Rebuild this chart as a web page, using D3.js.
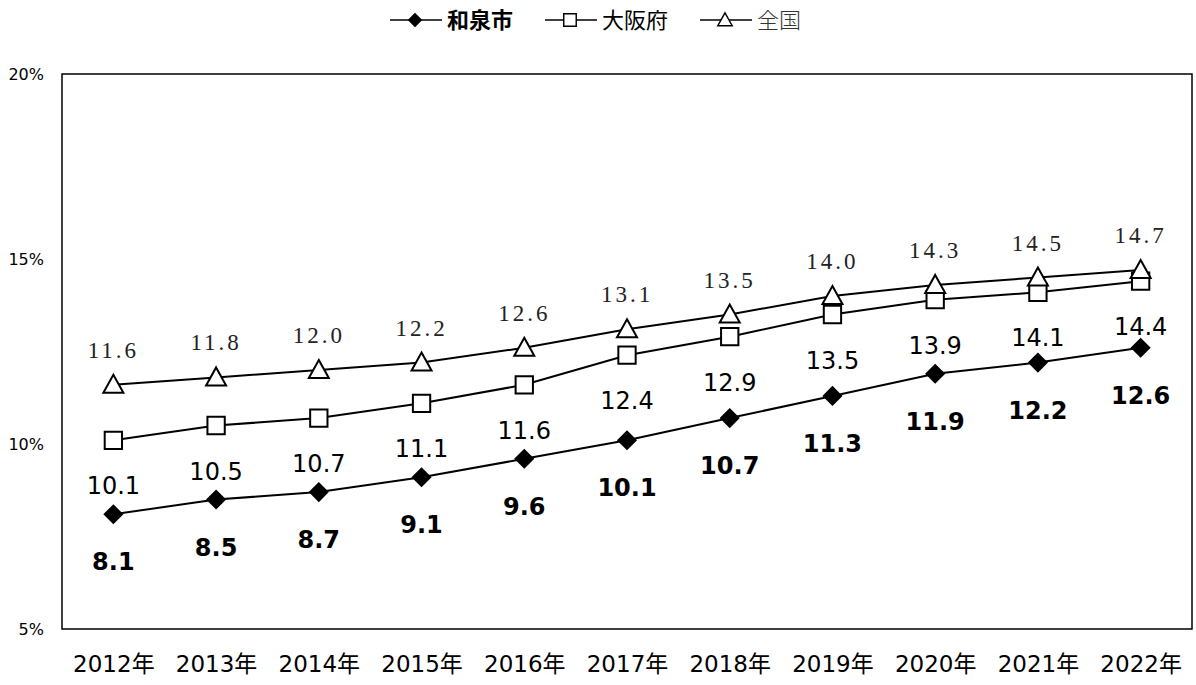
<!DOCTYPE html>
<html>
<head>
<meta charset="utf-8">
<script src="https://cdn.jsdelivr.net/npm/d3@7"></script>
<style>
  body { margin: 0; background: #fff; }
  svg { display: block; }
</style>
</head>
<body>
<div id="chart"></div>
<script>
const years = ["2012年", "2013年", "2014年", "2015年", "2016年", "2017年", "2018年", "2019年", "2020年", "2021年", "2022年"];
const izumi = [8.1, 8.5, 8.7, 9.1, 9.6, 10.1, 10.7, 11.3, 11.9, 12.2, 12.6];
const osaka = [10.1, 10.5, 10.7, 11.1, 11.6, 12.4, 12.9, 13.5, 13.9, 14.1, 14.4];
const zenkoku = [11.6, 11.8, 12.0, 12.2, 12.6, 13.1, 13.5, 14.0, 14.3, 14.5, 14.7];
const yTicks = [5, 10, 15, 20];

const W = 1196, H = 685;
const margin = { top: 74, right: 4, bottom: 56, left: 62 };
const sans = "'DejaVu Sans', 'Noto Sans CJK JP', sans-serif";
const serif = "'Liberation Serif', 'DejaVu Serif', serif";

const svg = d3.select('#chart').append('svg')
  .attr('width', W).attr('height', H);

const x = d3.scalePoint().domain(years)
  .range([margin.left, W - margin.right]).padding(0.5);
const y = d3.scaleLinear().domain([5, 20])
  .range([H - margin.bottom, margin.top]);

// plot frame
svg.append('rect')
  .attr('x', margin.left).attr('y', margin.top)
  .attr('width', W - margin.right - margin.left)
  .attr('height', H - margin.bottom - margin.top)
  .attr('fill', 'none').attr('stroke', '#000').attr('stroke-width', 1.5);

// y axis labels
const yAxis = d3.axisLeft(y).tickValues(yTicks).tickSize(0).tickPadding(18)
  .tickFormat(d => d + '%');
svg.append('g')
  .attr('transform', `translate(${margin.left},0)`)
  .call(yAxis)
  .call(g => g.select('.domain').remove())
  .selectAll('text')
  .attr('font-family', sans).attr('font-size', 16).attr('fill', '#000');

// x axis labels
const xAxis = d3.axisBottom(x).tickSize(0).tickPadding(27);
svg.append('g')
  .attr('transform', `translate(0,${H - margin.bottom})`)
  .call(xAxis)
  .call(g => g.select('.domain').remove())
  .selectAll('text')
  .attr('font-family', sans).attr('font-size', 23).attr('fill', '#000');

const line = d3.line().x((d, i) => x(years[i])).y(d => y(d));

const diamond = d3.symbol().type(d3.symbolSquare).size(150)();
const square = d3.symbol().type(d3.symbolSquare).size(300)();
const triangle = 'M0,-10L10,8L-10,8Z';

const series = [
  { name: '和泉市', values: izumi, marker: diamond, rotate: 45, fill: '#000', labelDy: 56, font: sans, weight: 'bold' },
  { name: '大阪府', values: osaka, marker: square, rotate: 0, fill: '#fff', labelDy: 54, font: sans, weight: 'normal' },
  { name: '全国', values: zenkoku, marker: triangle, rotate: 0, fill: '#fff', labelDy: -27, font: serif, weight: 'normal' }
];

series.forEach(s => {
  svg.append('path').datum(s.values)
    .attr('d', line).attr('fill', 'none')
    .attr('stroke', '#000').attr('stroke-width', 2);
});

series.forEach(s => {
  svg.append('g').selectAll('path').data(s.values).join('path')
    .attr('d', s.marker)
    .attr('transform', (d, i) => `translate(${x(years[i])},${y(d)}) rotate(${s.rotate})`)
    .attr('fill', s.fill).attr('stroke', '#000').attr('stroke-width', 2);

  svg.append('g').selectAll('text').data(s.values).join('text')
    .attr('x', (d, i) => x(years[i]))
    .attr('y', d => y(d) + s.labelDy)
    .attr('text-anchor', 'middle')
    .attr('font-family', s.font)
    .attr('font-size', s.font === serif ? 23 : 24)
    .attr('font-weight', s.weight)
    .attr('letter-spacing', s.font === serif ? 3 : 0)
    .attr('fill', s.font === serif ? '#222' : '#000')
    .text(d => d.toFixed(1));
});

// legend
const legendX = [390, 545, 700];
const legend = svg.append('g');
series.forEach((s, i) => {
  const g = legend.append('g').attr('transform', `translate(${legendX[i]},20)`);
  g.append('line').attr('x1', 0).attr('x2', 52).attr('y1', 0).attr('y2', 0)
    .attr('stroke', '#000').attr('stroke-width', 1.5);
  g.append('path').attr('d', s.marker)
    .attr('transform', `translate(25,0) rotate(${s.rotate}) scale(0.72)`)
    .attr('fill', s.fill).attr('stroke', '#000').attr('stroke-width', 2);
  g.append('text').attr('x', 57).attr('y', 8)
    .attr('font-family', i === 2 ? "'Noto Sans CJK JP', serif" : "'Noto Sans CJK JP', sans-serif")
    .attr('font-size', 22)
    .attr('font-weight', s.weight === 'bold' ? 'bold' : (i === 2 ? 300 : 'normal'))
    .attr('fill', i === 2 ? '#333' : '#000')
    .text(s.name);
});
</script>
</body>
</html>
